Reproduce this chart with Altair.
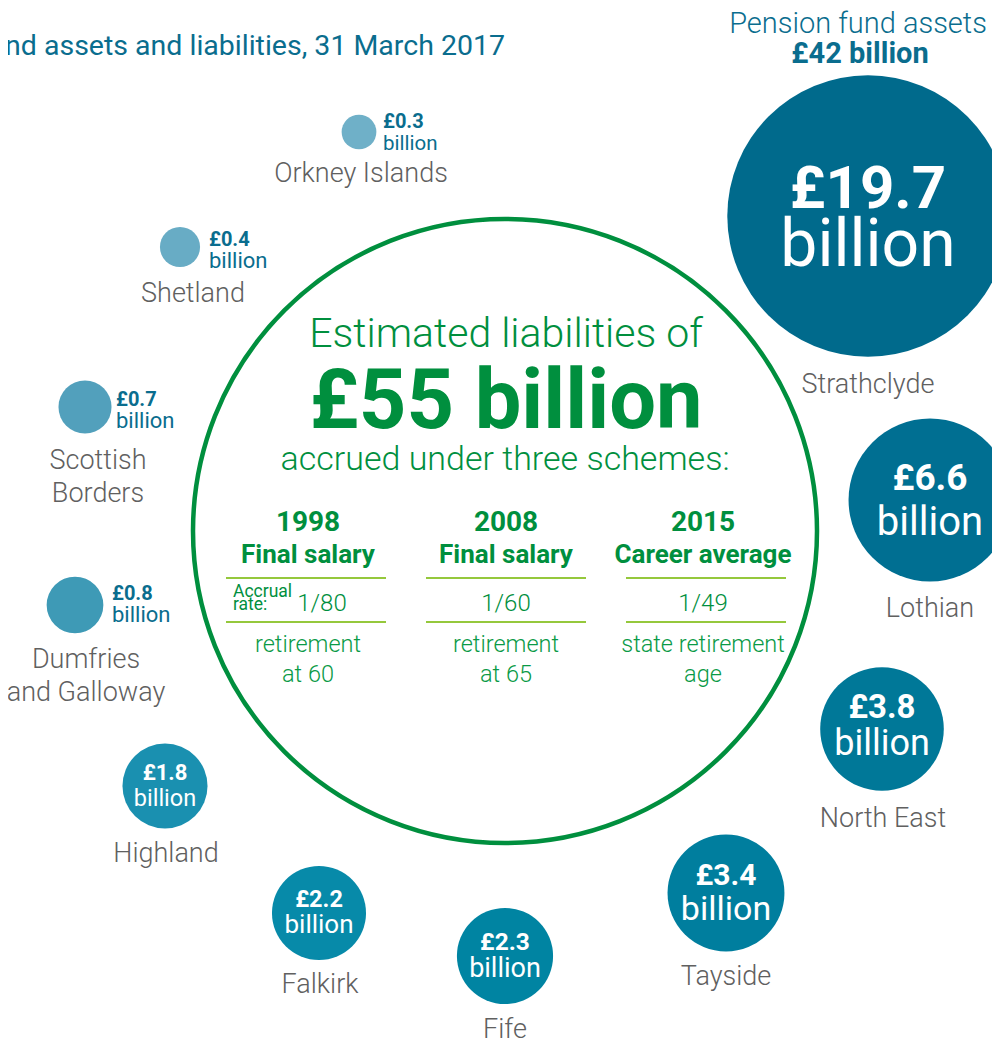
import altair as alt
import pandas as pd

# ---------------- data ----------------
funds = ["Strathclyde", "Lothian", "North East", "Tayside", "Fife", "Falkirk",
         "Highland", "Dumfries and Galloway", "Scottish Borders", "Shetland",
         "Orkney Islands"]
assets_bn = [19.7, 6.6, 3.8, 3.4, 2.3, 2.2, 1.8, 0.8, 0.7, 0.4, 0.3]
liabilities_bn = 55
scheme_years = ["1998", "2008", "2015"]
scheme_types = ["Final salary", "Final salary", "Career average"]
accrual_rates = ["1/80", "1/60", "1/49"]
retirement_terms = ["retirement\nat 60", "retirement\nat 65", "state retirement\nage"]
title_text = "Pension fund assets and liabilities, 31 March 2017"

# ---------------- layout (page pixel positions) & styles ----------------
bub_x = [868, 930, 882, 726, 505, 319, 165, 75, 85, 180, 359]
bub_y = [216, 500, 729, 893, 956, 913, 786, 605, 407, 247, 132]
bub_col = ["#006a8c", "#006f92", "#007898", "#007e9e", "#0084a2", "#078aa9",
           "#1a90b0", "#3e9ab6", "#52a0bc", "#68acc5", "#6fb0c8"]
inside = [True] * 7 + [False] * 4
val_x = [868, 930, 882, 726, 505, 319, 165, 112, 116, 209, 383]
val_y = [208, 490, 718, 885, 950, 907, 780, 600, 406, 246, 128]
bil_y = [266, 535, 755, 920, 977, 933, 806, 622, 428, 268, 150]
val_fs = [60, 37, 33, 30, 24.5, 23.5, 22, 20, 20, 20, 20]
bil_fs = [66, 40, 36, 34, 27, 26, 23.5, 22, 22, 22, 20.5]
name_x = [868, 930, 883, 726, 505, 320, 166, 86, 98, 193, 361]
name_y = [393, 617, 827, 985, 1038, 993, 862, 668, 469, 302, 182]
name_break = {"Dumfries and Galloway": "Dumfries\nand Galloway",
              "Scottish Borders": "Scottish\nBorders"}
col_x = [308, 506, 703]
rule_x = [306, 506, 706]
rule_y = [578, 622]

FONT = "Roboto"
TEAL = "#0a6d8e"
GREEN = "#008f3e"
LGREEN = "#0a9a46"
LINE = "#95c83c"
GREY = "#606060"

W, H = 984, 1033
X = alt.X("x:Q", scale=alt.Scale(domain=[8, 8 + W], nice=False, zero=False), axis=None)
Y = alt.Y("y:Q", scale=alt.Scale(domain=[8, 8 + H], nice=False, zero=False, reverse=True), axis=None)


def txt(df, **kw):
    base = dict(baseline="alphabetic", font=FONT)
    base.update(kw)
    enc = dict(x=X, y=Y, text="t:N")
    if "fs" in df.columns:
        enc["size"] = alt.Size("fs:Q", scale=None)
    if "c" in df.columns:
        enc["color"] = alt.Color("c:N", scale=None)
    return alt.Chart(df).mark_text(**base).encode(**enc)


fmt = lambda v: f"£{v:g}"

bubbles = pd.DataFrame({"fund": funds, "assets": assets_bn, "x": bub_x, "y": bub_y,
                        "c": bub_col})
bubble_layer = alt.Chart(bubbles).mark_circle(opacity=1).encode(
    x=X, y=Y,
    size=alt.Size("assets:Q", scale=alt.Scale(domain=[0, 20], range=[0, 80400], zero=True),
                  legend=None),
    color=alt.Color("c:N", scale=None),
)


def pick(lst, want=True):
    return [v for v, i in zip(lst, inside) if i == want]


vals_in = pd.DataFrame({"t": [fmt(v) for v in pick(assets_bn)], "x": pick(val_x),
                        "y": pick(val_y), "fs": pick(val_fs)})
bil_in = pd.DataFrame({"t": ["billion"] * sum(inside), "x": pick(val_x),
                       "y": pick(bil_y), "fs": pick(bil_fs)})
vals_out = pd.DataFrame({"t": [fmt(v) for v in pick(assets_bn, False)], "x": pick(val_x, False),
                         "y": pick(val_y, False), "fs": pick(val_fs, False)})
bil_out = pd.DataFrame({"t": ["billion"] * (len(inside) - sum(inside)), "x": pick(val_x, False),
                        "y": pick(bil_y, False), "fs": pick(bil_fs, False)})
names = pd.DataFrame({"t": [name_break.get(f, f) for f in funds], "x": name_x, "y": name_y})

layers = [bubble_layer,
          txt(vals_in, align="center", fontWeight="bold", color="white"),
          txt(bil_in, align="center", fontWeight="normal", color="white"),
          txt(vals_out, align="left", fontWeight="bold", color=TEAL),
          txt(bil_out, align="left", fontWeight="normal", color=TEAL),
          txt(names, align="center", fontWeight=300, color=GREY, fontSize=27,
              lineBreak="\n", lineHeight=33)]

# liabilities circle
circ = pd.DataFrame({"x": [505], "y": [531]})
layers.append(alt.Chart(circ).mark_point(shape="circle", filled=False, size=389376,
                                         strokeWidth=4.5, color=GREEN, opacity=1)
              .encode(x=X, y=Y))

# header / title
layers.append(txt(pd.DataFrame({"t": [title_text], "x": [505], "y": [55]}),
                  align="right", fontSize=28.5, fontWeight="normal", color=TEAL))
layers.append(txt(pd.DataFrame({"t": ["Pension fund assets"], "x": [858], "y": [33]}),
                  align="center", fontSize=29, fontWeight=300, color=TEAL))
layers.append(txt(pd.DataFrame({"t": [f"£{sum(assets_bn):.0f} billion"], "x": [860], "y": [63]}),
                  align="center", fontSize=29, fontWeight="bold", color=TEAL))

# liabilities text
layers.append(txt(pd.DataFrame({"t": ["Estimated liabilities of"], "x": [506], "y": [347]}),
                  align="center", fontSize=41, fontWeight=300, color=GREEN))
layers.append(txt(pd.DataFrame({"t": [f"£{liabilities_bn} billion"], "x": [506], "y": [428]}),
                  align="center", fontSize=83, fontWeight="bold", color=GREEN))
layers.append(txt(pd.DataFrame({"t": ["accrued under three schemes:"], "x": [505], "y": [470]}),
                  align="center", fontSize=34, fontWeight=300, color=GREEN))

# scheme table
layers.append(txt(pd.DataFrame({"t": scheme_years, "x": col_x, "y": [531] * 3}),
                  align="center", fontSize=28, fontWeight="bold", color=GREEN))
layers.append(txt(pd.DataFrame({"t": scheme_types, "x": col_x, "y": [563] * 3}),
                  align="center", fontSize=26, fontWeight="bold", color=GREEN))
rules = pd.DataFrame({"x": [cx - 80 for cx in rule_x for _ in rule_y],
                      "x2": [cx + 80 for cx in rule_x for _ in rule_y],
                      "y": [ry for _ in rule_x for ry in rule_y]})
layers.append(alt.Chart(rules).mark_rule(color=LINE, strokeWidth=2).encode(
    x=X, x2=alt.X2("x2:Q"), y=Y))
layers.append(txt(pd.DataFrame({"t": accrual_rates, "x": [322, 506, 703], "y": [611] * 3}),
                  align="center", fontSize=24, fontWeight=300, color=GREEN))
layers.append(txt(pd.DataFrame({"t": ["Accrual\nrate:"], "x": [233], "y": [597]}),
                  align="left", fontSize=17.5, fontWeight="normal", color=GREEN,
                  lineBreak="\n", lineHeight=13))
layers.append(txt(pd.DataFrame({"t": retirement_terms, "x": col_x, "y": [652] * 3}),
                  align="center", fontSize=23.5, fontWeight=300, color=LGREEN,
                  lineBreak="\n", lineHeight=30))

chart = alt.layer(*layers).properties(
    width=W, height=H, padding=0, autosize=alt.AutoSizeParams(type="none"),
    background="white",
).configure_view(stroke=None)

chart.save("out.html", embed_options={"renderer": "svg", "actions": False})
